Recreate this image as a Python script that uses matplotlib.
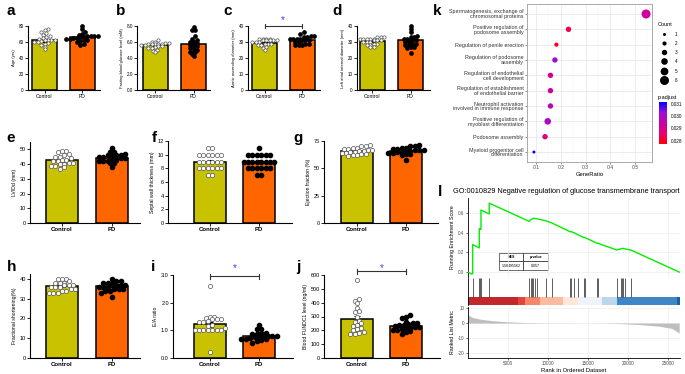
import numpy as np
import matplotlib
matplotlib.use('Agg')
import matplotlib.pyplot as plt
from matplotlib.colors import LinearSegmentedColormap, Normalize
from matplotlib.cm import ScalarMappable

plt.rcParams['font.family'] = ['Liberation Sans', 'DejaVu Sans']

# ---- bar panels (a-j): dots per group, bar means ----
a_ctrl = [76, 75, 73, 71, 69, 68, 66, 65, 64, 63, 63, 62, 62, 61, 60, 60, 59, 58, 56, 54, 51]
a_pd = [80, 76, 72, 70, 69, 68, 68, 67, 67, 66, 66, 65, 65, 64, 64, 63, 62, 61, 60, 58, 56]
a_mean = [62, 66]

b_ctrl = [6.3, 6.0, 6.0, 5.9, 5.9, 5.8, 5.8, 5.8, 5.7, 5.7, 5.6, 5.6, 5.5, 5.5, 5.4, 5.3, 5.2, 5.0, 4.9, 4.7]
b_pd = [7.9, 7.5, 7.5, 6.8, 6.4, 6.2, 6.0, 6.0, 5.9, 5.8, 5.6, 5.5, 5.4, 5.2, 5.0, 5.0, 4.8, 4.7, 4.5, 4.2]
b_mean = [5.6, 5.7]

c_ctrl = [32, 32, 32, 32, 31, 31, 31, 31, 31, 30, 30, 30, 29, 29, 29, 28, 28, 27, 26, 25]
c_pd = [36, 35, 34, 34, 33, 33, 32, 32, 32, 32, 31, 31, 31, 30, 30, 29, 29, 28, 28, 28]
c_mean = [29.5, 31.5]

d_ctrl = [33, 33, 33, 32, 32, 32, 32, 32, 31, 31, 31, 30, 30, 30, 29, 29, 28, 28, 27, 27]
d_pd = [40, 38, 36, 34, 33, 33, 32, 32, 31, 31, 30, 30, 29, 29, 28, 28, 27, 27, 26, 23]
d_mean = [30.5, 31]

e_ctrl = [49, 49, 48, 47, 46, 45, 45, 44, 43, 43, 42, 42, 41, 41, 40, 40, 39, 39, 38, 37]
e_pd = [51, 48, 48, 47, 46, 46, 46, 46, 45, 45, 44, 44, 43, 43, 42, 42, 42, 41, 41, 38]
e_mean = [42.5, 44]

f_ctrl = [11, 11, 10, 10, 10, 10, 10, 10, 9, 9, 9, 9, 9, 9, 8, 8, 8, 8, 8, 8, 7, 7]
f_pd = [11, 10, 10, 10, 10, 10, 10, 9, 9, 9, 9, 9, 9, 9, 9, 8, 8, 8, 8, 8, 8, 7, 7]
f_mean = [9, 9]

g_ctrl = [71, 70, 70, 69, 69, 68, 68, 67, 67, 66, 66, 65, 65, 64, 64, 63, 63, 62, 62, 61]
g_pd = [71, 70, 70, 69, 69, 68, 68, 67, 67, 67, 66, 66, 65, 65, 64, 64, 63, 63, 62, 58]
g_mean = [65.5, 65.5]

h_ctrl = [40, 40, 40, 39, 38, 38, 38, 37, 37, 37, 36, 36, 36, 35, 35, 34, 34, 33, 33, 33]
h_pd = [40, 39, 39, 38, 38, 38, 37, 37, 37, 37, 36, 36, 36, 35, 35, 35, 34, 34, 33, 31]
h_mean = [36.5, 36.5]

i_ctrl = [2.6, 1.5, 1.5, 1.45, 1.4, 1.4, 1.4, 1.35, 1.3, 1.3, 1.2, 1.15, 1.1, 1.0, 1.0, 1.0, 1.0, 1.0, 1.0, 1.0, 0.2]
i_pd = [1.2, 1.05, 1.05, 0.9, 0.9, 0.85, 0.85, 0.8, 0.8, 0.8, 0.78, 0.75, 0.75, 0.72, 0.7, 0.7, 0.68, 0.65, 0.6, 0.55]
i_mean = [1.22, 0.78]

j_ctrl = [565, 425, 410, 400, 360, 340, 330, 300, 270, 260, 250, 240, 230, 220, 210, 200, 190, 180, 175, 170]
j_pd = [310, 300, 290, 260, 255, 250, 245, 240, 235, 230, 225, 225, 220, 215, 210, 205, 200, 195, 190, 175]
j_mean = [280, 228]

groups = ['Control', 'PD']

# ---- panel k: GO enrichment dot plot ----
go_terms = ['Spermatogenesis, exchange of\nchromosomal proteins',
            'Positive regulation of\npodosome assembly',
            'Regulation of penile erection',
            'Regulation of podosome\nassembly',
            'Regulation of endothelial\ncell development',
            'Regulation of establishment\nof endothelial barrier',
            'Neutrophil activation\ninvolved in immune response',
            'Positive regulation of\nmyoblast differentiation',
            'Podosome assembly',
            'Myeloid progenitor cell\ndifferentiation']
gene_ratio = [0.545, 0.231, 0.182, 0.176, 0.158, 0.158, 0.158, 0.147, 0.136, 0.091]
go_count = [6, 3, 2, 3, 3, 3, 3, 4, 3, 1]
p_adjust = [0.02925, 0.02835, 0.0280, 0.0301, 0.0292, 0.02925, 0.02965, 0.0299, 0.0288, 0.0311]

# ---- panel l: GSEA ----
es_rank = [0, 450, 580, 580, 1410, 1410, 1500, 1500, 1620, 1620, 2650, 2650, 7650, 7830, 8000, 8170,
           8370, 8660, 9750, 10450, 12750, 12880, 13250, 13700, 14500, 14620, 16080, 16300, 18580,
           19080, 19200, 19420, 19620, 20330, 26400]
es_score = [0, -0.02, -0.015, 0.28, 0.245, 0.44, 0.435, 0.44, 0.435, 0.63, 0.59, 0.70, 0.515, 0.53,
            0.54, 0.545, 0.545, 0.54, 0.52, 0.50, 0.41, 0.41, 0.40, 0.38, 0.35, 0.35, 0.295, 0.29,
            0.225, 0.235, 0.24, 0.24, 0.235, 0.225, 0.0]
hit_ranks = [583, 1417, 1500, 1625, 2667, 7667, 7833, 8000, 8167, 8375, 8667, 9750, 10458, 12750,
             12875, 13250, 13708, 14500, 14625, 16083, 16292, 18583, 19083, 19208, 19417, 19625, 20333]
metric_rank = [0, 500, 1500, 3000, 5000, 7500, 10000, 15000, 18000, 20000, 22000, 24000, 25500, 26400]
metric_val = [5.5, 3.8, 2.6, 1.6, 0.8, 0.3, 0.1, 0.0, -0.2, -0.6, -1.2, -2.2, -3.6, -6.7]
band_edges = [0, 6290, 7080, 8960, 11920, 13790, 16710, 18580, 26080, 26500]
band_colors = ['#C0282C', '#E2463A', '#F6866A', '#FCBBA1', '#FDE6DA', '#EEF3FA', '#BCD7EB', '#3D87C4', '#1F5FA8']
nes_value = '1.58495562'
p_value = '0.057'

W, H = 685, 374
fig = plt.figure(figsize=(W / 100, H / 100), dpi=100)

CTRL_C = '#C8C200'
PD_C = '#FF6600'


def ax_px(l, t, r, b):
    return fig.add_axes([l / W, 1 - b / H, (r - l) / W, (b - t) / H])


def swarm(vals, center, dpx, xu, yu):
    # prism-like rows: bin by dot height, spread each row sideways
    vals = np.asarray(vals, float)
    bins = np.round(vals / (dpx * yu)).astype(int)
    xs = np.zeros(len(vals))
    for bv in np.unique(bins):
        idx = np.where(bins == bv)[0]
        idx = idx[np.argsort(vals[idx])]
        offs = (np.arange(len(idx)) - (len(idx) - 1) / 2) * dpx * 1.05
        xs[idx] = center + offs * xu
    return xs


def bar_panel(box, centers, ctrl, pd_, means, ylim, yticks, ylabel, fs, bar_px, dot_px,
              bold, fmt='{:g}', sig=None):
    l, t, r, b = box
    ax = ax_px(l, t, r, b)
    unit = centers[1] - centers[0]
    ax.set_xlim(-(centers[0] - l) / unit, 1 + (r - centers[1]) / unit)
    ax.set_ylim(*ylim)
    xu = 1 / unit
    yu = (ylim[1] - ylim[0]) / (b - t)
    ax.bar([0, 1], means, width=bar_px / unit, color=[CTRL_C, PD_C], edgecolor='black',
           linewidth=1.1, zorder=1)
    sems = [np.std(v, ddof=1) / np.sqrt(len(v)) for v in (ctrl, pd_)]
    ax.errorbar([0, 1], means, yerr=sems, fmt='none', ecolor='black', elinewidth=0.8,
                capsize=2, capthick=0.8, zorder=3)
    ms = dot_px * 0.72
    ax.plot(swarm(ctrl, 0, dot_px, xu, yu), ctrl, 'o', mfc='white', mec='#555555', mew=0.5,
            ms=ms, zorder=4, clip_on=False)
    ax.plot(swarm(pd_, 1, dot_px, xu, yu), pd_, 'o', color='black', ms=ms, zorder=4, clip_on=False)
    for s in ('top', 'right'):
        ax.spines[s].set_visible(False)
    for s in ('left', 'bottom'):
        ax.spines[s].set_linewidth(0.8)
    ax.set_xticks([0, 1])
    ax.set_xticklabels(groups, fontsize=fs + 0.3, fontweight='bold' if bold else 'normal')
    ax.set_yticks(yticks)
    ax.set_yticklabels([fmt.format(v) for v in yticks], fontsize=fs)
    ax.tick_params(length=2, width=0.6, pad=1)
    ax.set_ylabel(ylabel, fontsize=fs - 0.3, labelpad=2)
    if sig is not None:
        yb, ys = sig
        d = (ylim[1] - ylim[0]) * 0.03
        ax.plot([0, 1], [yb, yb], color='#333333', lw=0.8, clip_on=False, zorder=5)
        ax.plot([0, 0], [yb - d, yb + d], color='#333333', lw=0.8, clip_on=False)
        ax.plot([1, 1], [yb - d, yb + d], color='#333333', lw=0.8, clip_on=False)
        ax.text(0.5, ys, '*', color='#3344FF', fontsize=7, ha='center', va='center', clip_on=False)
    return ax


r1 = dict(fs=3.3, bar_px=25, dot_px=3.3, bold=False)
bar_panel((28, 26, 100, 90), (44.5, 82), a_ctrl, a_pd, a_mean, (0, 80), [0, 20, 40, 60, 80],
          'Age (yrs)', **r1)
bar_panel((137, 26, 210, 90), (155, 193.5), b_ctrl, b_pd, b_mean, (0, 8), [0, 2, 4, 6, 8],
          'Fasting blood glucose level (mM)', fmt='{:.1f}', **r1)
bar_panel((248, 26, 320, 90), (264.5, 302), c_ctrl, c_pd, c_mean, (0, 40), [0, 10, 20, 30, 40],
          'Aortic ascending diameter (mm)', sig=(40, 43.5), **r1)
bar_panel((357, 26, 430, 90), (372, 410.5), d_ctrl, d_pd, d_mean, (0, 40), [0, 10, 20, 30, 40],
          'Left atrial internal diameter (mm)', **r1)

r2 = dict(fs=4.0, bar_px=32, dot_px=4.2, bold=True)
bar_panel((30, 142, 140, 223), (62, 112), e_ctrl, e_pd, e_mean, (0, 55), [0, 10, 20, 30, 40, 50],
          'LVIDd (mm)', **r2)
bar_panel((168, 141, 292, 223), (210, 259), f_ctrl, f_pd, f_mean, (0, 12), [0, 2, 4, 6, 8, 10, 12],
          'Septal wall thickness (mm)', **r2)
bar_panel((324, 141, 438, 223), (357, 406), g_ctrl, g_pd, g_mean, (0, 75), [0, 25, 50, 75],
          'Ejection fraction (%)', **r2)
bar_panel((30, 274, 140, 358), (62, 112), h_ctrl, h_pd, h_mean, (0, 42.5), [0, 10, 20, 30, 40],
          'Fractional shortening(%)', **r2)
bar_panel((173, 275, 293, 358), (210, 259), i_ctrl, i_pd, i_mean, (0, 3), [0, 1, 2, 3],
          'E/A ratio', fmt='{:.1f}', sig=(2.95, 3.25), **r2)
bar_panel((324, 275, 440, 358), (357, 406), j_ctrl, j_pd, j_mean, (0, 600),
          [0, 100, 200, 300, 400, 500, 600], 'Blood FUNDC1 level (ng/ml)', sig=(628, 652), **r2)

# ---- panel k ----
cmap = LinearSegmentedColormap.from_list('padj', ['#FF0000', '#E8006E', '#C800A8', '#9A10D8', '#0000FF'])
norm = Normalize(vmin=0.02776, vmax=0.03112)
axk = ax_px(527, 4, 652, 162)
ypos = np.arange(len(go_terms))[::-1] + 1
sizes = [((3 + (c - 1) * 1.2) * 0.72) ** 2 for c in go_count]
axk.scatter(gene_ratio, ypos, s=sizes, c=p_adjust, cmap=cmap, norm=norm, zorder=3, linewidths=0)
axk.set_xlim(0.063, 0.569)
axk.set_ylim(0.35, 10.65)
axk.set_yticks(ypos)
axk.set_yticklabels(go_terms, fontsize=3.9, color='#333333', linespacing=0.95)
axk.set_xticks([0.1, 0.2, 0.3, 0.4, 0.5])
axk.set_xticklabels(['0.1', '0.2', '0.3', '0.4', '0.5'], fontsize=3.7, color='#4D4D4D')
axk.set_xticks([0.15, 0.25, 0.35, 0.45, 0.55], minor=True)
axk.tick_params(length=1.5, width=0.4, pad=1, color='#333333')
axk.tick_params(which='minor', length=0)
axk.grid(True, which='major', color='#E5E5E5', lw=0.5)
axk.grid(True, which='minor', axis='x', color='#F2F2F2', lw=0.3)
for s in axk.spines.values():
    s.set_color('#AAAAAA')
    s.set_linewidth(0.7)
axk.set_xlabel('GeneRatio', fontsize=4.2, labelpad=1)

cax = ax_px(659, 102, 667, 144)
cb = fig.colorbar(ScalarMappable(norm=norm, cmap=cmap), cax=cax)
cb.outline.set_visible(False)
cb.set_ticks([0.028, 0.029, 0.030, 0.031])
cb.set_ticklabels(['0.028', '0.029', '0.030', '0.031'])
cax.tick_params(labelsize=3.3, length=1.5, width=0.4, color='white', pad=1)

# ---- panel l ----
l1 = ax_px(468, 198, 680, 277)
l1.plot(es_rank, es_score, color='#00EE00', lw=1.0, zorder=3)
l1.set_xlim(0, 26500)
l1.set_ylim(-0.05, 0.752)
l1.set_yticks([0, 0.2, 0.4, 0.6])
l1.set_yticklabels(['0.0', '0.2', '0.4', '0.6'], fontsize=3.3, color='#4D4D4D')
l1.set_xticks([5000, 10000, 15000, 20000, 25000])
l1.set_xticklabels([])
l1.tick_params(length=1.5, width=0.4, pad=1)
l1.tick_params(axis='x', length=0)
l1.grid(True, color='#EBEBEB', lw=0.5)
l1.set_ylabel('Running Enrichment Score', fontsize=3.8, labelpad=2)
for s in ('top', 'right', 'bottom'):
    l1.spines[s].set_visible(False)
l1.spines['left'].set_linewidth(0.6)
tb = l1.table(cellText=[[nes_value, p_value]], colLabels=['NES', 'p-value'],
              bbox=[0.146, 0.09, 0.231, 0.215], cellLoc='center')
tb.auto_set_font_size(False)
for (rr, cc), cell in tb.get_celld().items():
    cell.set_linewidth(0.4)
    cell.get_text().set_fontsize(2.6)
    if rr == 0:
        cell.get_text().set_fontweight('bold')

l2 = ax_px(468, 278, 680, 305)
l2.set_xlim(0, 26500)
l2.set_ylim(0, 1)
l2.vlines(hit_ranks, 0.3, 1.0, color='#444444', lw=0.6)
for k in range(len(band_colors)):
    l2.axvspan(band_edges[k], band_edges[k + 1], 0, 0.3, color=band_colors[k], lw=0)
l2.set_xticks([])
l2.set_yticks([])
for s in ('top', 'right', 'bottom'):
    l2.spines[s].set_visible(False)
l2.spines['left'].set_linewidth(0.6)

l3 = ax_px(468, 307, 680, 358)
l3.fill_between(metric_rank, metric_val, 0, color='#BEBEBE', lw=0)
l3.set_xlim(0, 26500)
l3.set_ylim(-23.3, 10.7)
l3.set_yticks([10, 0, -10, -20])
l3.set_yticklabels(['10', '0', '-10', '-20'], fontsize=3.3, color='#4D4D4D')
l3.set_xticks([5000, 10000, 15000, 20000, 25000])
l3.set_xticklabels(['5000', '10000', '15000', '20000', '25000'], fontsize=3.3, color='#4D4D4D')
l3.tick_params(length=1.5, width=0.4, pad=1)
l3.grid(True, color='#EBEBEB', lw=0.5)
l3.set_axisbelow(True)
l3.set_ylabel('Ranked List Metric', fontsize=3.8, labelpad=2)
l3.set_xlabel('Rank in Ordered Dataset', fontsize=4.2, labelpad=1)
for s in ('top', 'right'):
    l3.spines[s].set_visible(False)
for s in ('left', 'bottom'):
    l3.spines[s].set_linewidth(0.6)

# ---- overlay: letters, titles, size legend ----
ov = fig.add_axes([0, 0, 1, 1])
ov.set_xlim(0, W)
ov.set_ylim(H, 0)
ov.axis('off')
letters = ['a', 'b', 'c', 'd', 'k', 'e', 'f', 'g', 'l', 'h', 'i', 'j']
letter_xy = [(11, 11), (121, 11), (228, 11), (337, 11), (437, 11), (11, 138), (154, 138),
             (298, 138), (440, 192), (12, 267), (153, 267), (298, 267)]
for s, (x, y) in zip(letters, letter_xy):
    ov.text(x, y, s, fontsize=11, fontweight='bold', ha='center', va='center')

ov.text(453, 191, 'GO:0010829 Negative regulation of glucose transmembrane transport',
        fontsize=5.3, ha='left', va='center')

ov.text(658, 24, 'Count', fontsize=4.0, ha='left', va='center')
for c, y in zip([1, 2, 3, 4, 5, 6], [34, 43, 52, 61, 71, 80]):
    ov.scatter([664], [y], s=((3 + (c - 1) * 1.2) * 0.72) ** 2, color='black', linewidths=0)
    ov.text(675, y, str(c), fontsize=3.3, ha='left', va='center')
ov.text(658, 97, 'p.adjust', fontsize=4.0, ha='left', va='center')

fig.savefig('out.png', dpi=100)
